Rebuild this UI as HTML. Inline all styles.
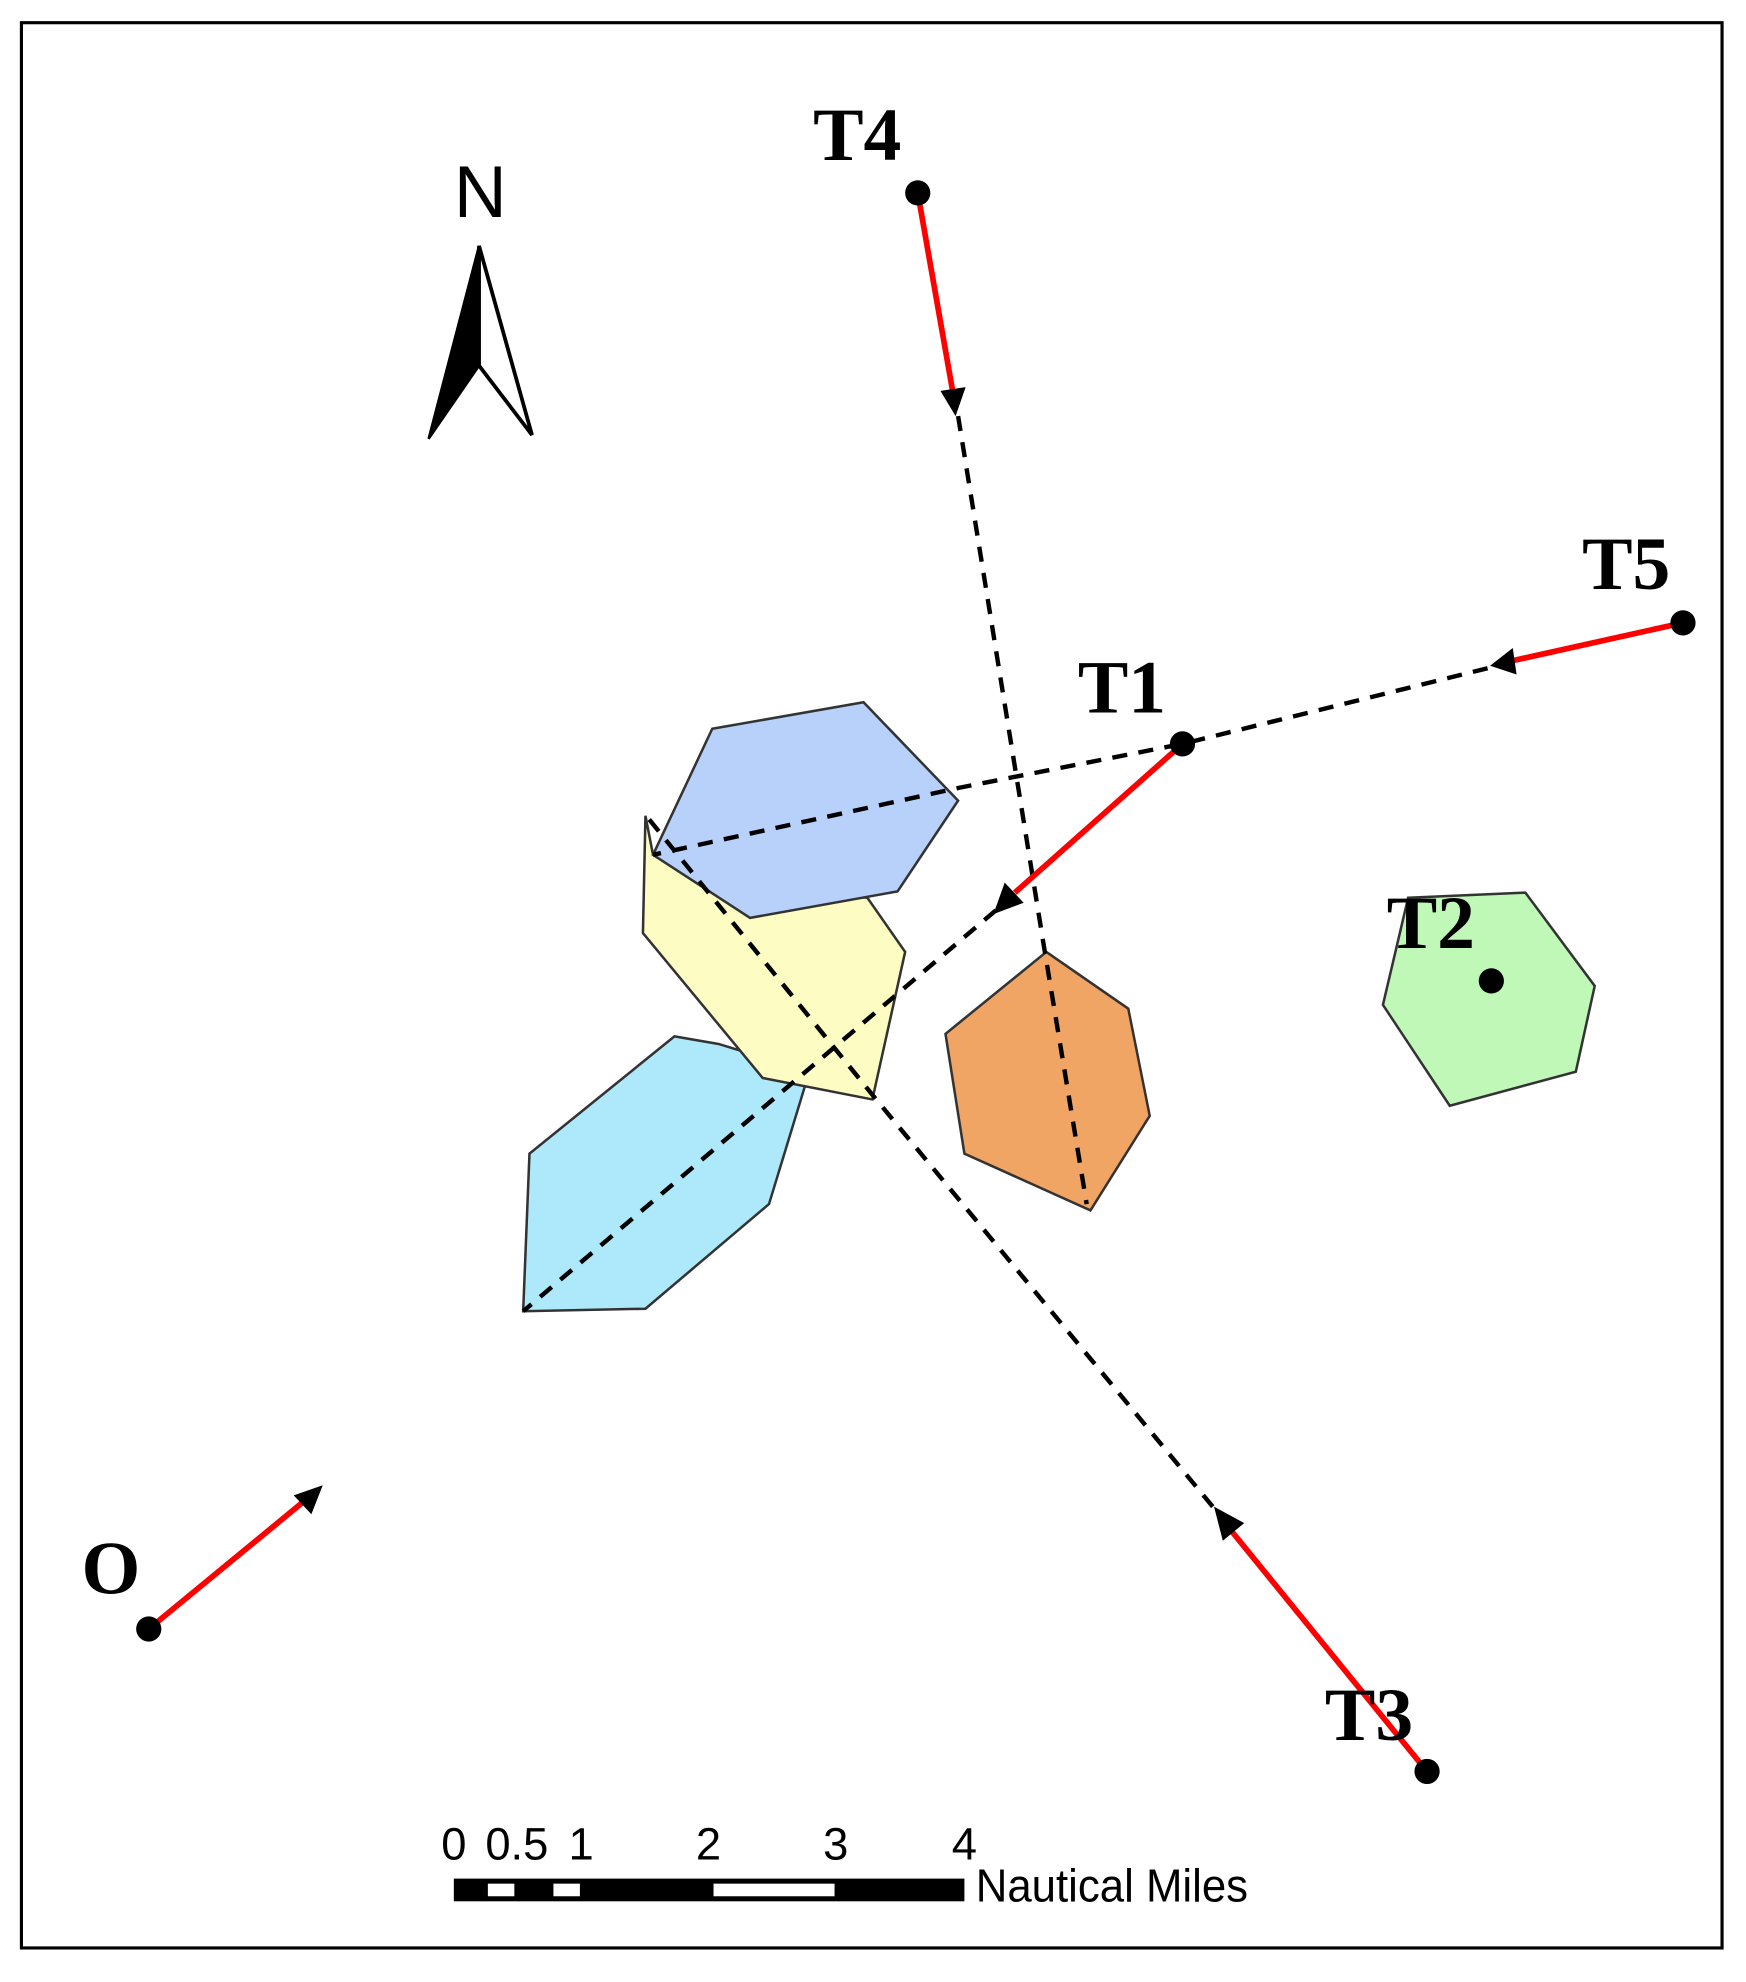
<!DOCTYPE html>
<html><head><meta charset="utf-8"><style>html,body{margin:0;padding:0;background:#fff}svg{display:block}</style></head>
<body>
<svg width="1746" height="1982" viewBox="0 0 1385 1572" preserveAspectRatio="none" xmlns="http://www.w3.org/2000/svg">
<rect x="0" y="0" width="1385" height="1572" fill="#fff"/>
<rect x="17" y="18" width="1349" height="1527" fill="none" stroke="#000" stroke-width="2.5"/>
<text x="381" y="172" font-family="Liberation Sans, sans-serif" font-size="58" text-anchor="middle">N</text>
<polygon points="380,195 340,348 380,290" fill="#000" stroke="#000" stroke-width="2"/>
<polygon points="380,195 422,345 380,290" fill="#fff" stroke="#000" stroke-width="3"/>
<g stroke="#333" stroke-width="2">
<polygon points="535,822 420,915 415,1040 512,1038 610,955 642,850 570,828" fill="#aee9fb"/>
<polygon points="512,647 510,740 605,855 692,872 718,755 688,712 560,700 518,678" fill="#fdfcc2"/>
<polygon points="565,578 685,557 760,635 712,707 595,728 518,678" fill="#b7d1fb"/>
<polygon points="830,755 895,800 912,885 865,960 765,915 750,820" fill="#f1a565"/>
<polygon points="1117,712 1210,708 1265,782 1250,850 1150,877 1097,797" fill="#bff8b7"/>
</g>
<g fill="none" stroke="#000" stroke-width="3.5" stroke-dasharray="12,9">
<polyline points="760,330 828,750 862,955"/>
<polyline points="1180,530 938,590 760,625 518,678"/>
<polyline points="790,722 415,1040"/>
<polyline points="515,650 695,872 962,1195"/>
</g>
<g stroke="#f00" stroke-width="4.5">
<line x1="728" y1="153" x2="756" y2="312"/>
<line x1="1335" y1="494" x2="1200" y2="524"/>
<line x1="938" y1="590" x2="805" y2="708"/>
<line x1="1132" y1="1405" x2="975" y2="1212"/>
<line x1="118" y1="1292" x2="242" y2="1190"/>
</g>
<g fill="#000">
<polygon points="758,330 746,310 766,307"/>
<polygon points="1182,528 1200,514 1203,535"/>
<polygon points="788,725 797,700 812,716"/>
<polygon points="963,1195 987,1208 970,1222"/>
<polygon points="256,1178 247,1201 233,1186"/>
<circle cx="728" cy="153" r="10"/>
<circle cx="1335" cy="494" r="10"/>
<circle cx="938" cy="590" r="10"/>
<circle cx="1183" cy="778" r="10"/>
<circle cx="1132" cy="1405" r="10"/>
<circle cx="118" cy="1292" r="10"/>
</g>
<g font-family="Liberation Serif, serif" font-weight="bold" font-size="60" text-anchor="middle">
<text x="680" y="127">T4</text>
<text x="1290" y="467">T5</text>
<text x="890" y="565">T1</text>
<text x="1135" y="752">T2</text>
<text x="1086" y="1380">T3</text>
<text x="88" y="1264">O</text>
</g>
<rect x="360" y="1490" width="405" height="18" fill="#000"/>
<rect x="387" y="1494" width="21" height="10" fill="#fff"/>
<rect x="439" y="1494" width="21" height="10" fill="#fff"/>
<rect x="566" y="1494" width="96" height="10" fill="#fff"/>
<g font-family="Liberation Sans, sans-serif" font-size="36" text-anchor="middle">
<text x="360" y="1475">0</text>
<text x="410" y="1475">0.5</text>
<text x="461" y="1475">1</text>
<text x="562" y="1475">2</text>
<text x="663" y="1475">3</text>
<text x="765" y="1475">4</text>
</g>
<text x="774" y="1508" font-family="Liberation Sans, sans-serif" font-size="37" textLength="216" lengthAdjust="spacingAndGlyphs">Nautical Miles</text>
</svg>
</body></html>
